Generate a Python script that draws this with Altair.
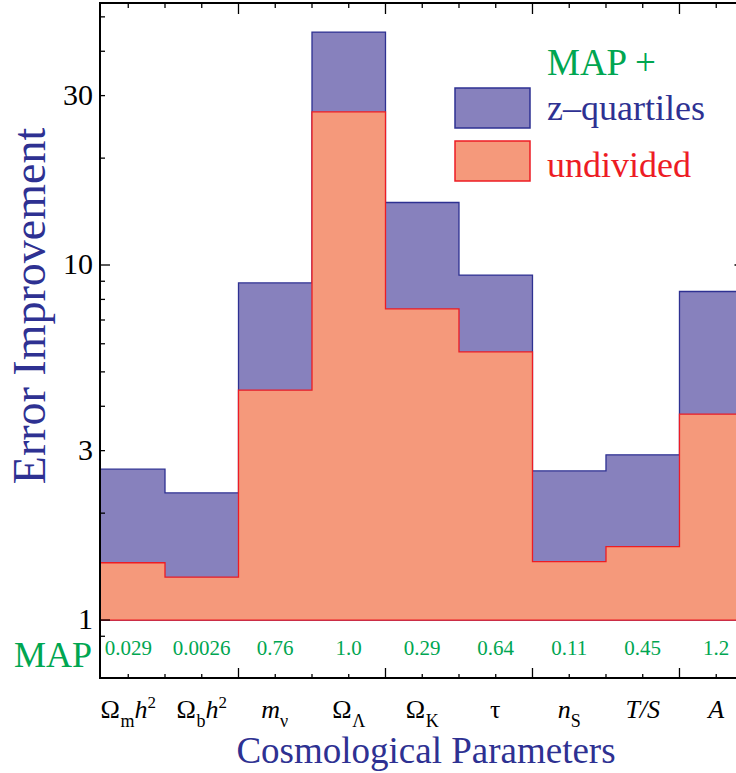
import altair as alt
import pandas as pd

# ---------------- data ----------------
params = ["Ωmh2", "Ωbh2", "mν", "ΩΛ", "ΩK", "τ", "nS", "T/S", "A"]
zquart = [2.66, 2.28, 8.9, 45.3, 15.0, 9.37, 2.63, 2.92, 8.42]      # MAP + z-quartiles
undiv = [1.45, 1.32, 4.44, 27.0, 7.52, 5.69, 1.46, 1.61, 3.80]       # MAP + undivided
map_err = ["0.029", "0.0026", "0.76", "1.0", "0.29", "0.64", "0.11", "0.45", "1.2"]
label_pieces = [
    [("Ω", "n"), ("m", "sub"), ("h", "i"), ("2", "sup")],
    [("Ω", "n"), ("b", "sub"), ("h", "i"), ("2", "sup")],
    [("m", "i"), ("ν", "sub")],
    [("Ω", "n"), ("Λ", "sub")],
    [("Ω", "n"), ("K", "sub")],
    [("τ", "n")],
    [("n", "i"), ("S", "sub")],
    [("T/S", "i")],
    [("A", "i")],
]
y_labels = [1, 3, 10, 30]
y_major_ticks = [1, 10]
y_minor_ticks = [0.9, 2, 3, 4, 5, 6, 7, 8, 9, 20, 30, 40, 50]
x_major_ticks = [2, 4, 6, 8]
x_minor_ticks = [0.5, 1, 1.5, 2.5, 3, 3.5, 4.5, 5, 5.5, 6.5, 7, 7.5, 8.5]

# ---------------- layout / style ----------------
W, H = 636, 675
XMIN, XMAX = 0.1156, 8.769
YMIN, YMAX = 0.6866, 54.7
PXU = W / (XMAX - XMIN)
FONT = "Liberation Serif"
GREEN = "#00A651"
NAVY = "#2E3192"
BLUE_FILL = "#8781BD"
RED_FILL = "#F5997B"
RED = "#ED1C24"

xs = alt.Scale(domain=[XMIN, XMAX], nice=False, zero=False)
ys = alt.Scale(type="log", domain=[YMIN, YMAX], nice=False)

n = len(params)
area_df = pd.DataFrame({
    "x": list(range(n + 1)),
    "zq": zquart + [zquart[-1]],
    "ud": undiv + [undiv[-1]],
    "base": [1] * (n + 1),
})

blue = alt.Chart(area_df).mark_area(
    interpolate="step-after", clip=True, fill=BLUE_FILL, stroke=NAVY,
    strokeWidth=1.3, opacity=1
).encode(
    x=alt.X("x:Q", scale=xs, axis=None),
    y=alt.Y("zq:Q", scale=ys, axis=None),
    y2="base:Q",
)
red = alt.Chart(area_df).mark_area(
    interpolate="step-after", clip=True, fill=RED_FILL, stroke=RED,
    strokeWidth=1.3, opacity=1
).encode(
    x=alt.X("x:Q", scale=xs, axis=None),
    y=alt.Y("ud:Q", scale=ys, axis=None),
    y2="base:Q",
)

one = pd.DataFrame({"a": [0]})
spines = [
    alt.Chart(one).mark_rule(color="black", strokeWidth=2).encode(
        x=alt.value(0), y=alt.value(0), y2=alt.value(H)),
    alt.Chart(one).mark_rule(color="black", strokeWidth=2).encode(
        x=alt.value(-1), x2=alt.value(W), y=alt.value(H)),
    alt.Chart(one).mark_rule(color="black", strokeWidth=2).encode(
        x=alt.value(-1), x2=alt.value(W), y=alt.value(0)),
]

def yticks(vals, length):
    return alt.Chart(pd.DataFrame({"v": vals})).mark_rule(
        color="black", strokeWidth=1.3).encode(
        y=alt.Y("v:Q", scale=ys, axis=None),
        x=alt.value(0), x2=alt.value(length))

def xticks(vals, length):
    d = pd.DataFrame({"v": vals})
    bot = alt.Chart(d).mark_rule(color="black", strokeWidth=1.3).encode(
        x=alt.X("v:Q", scale=xs, axis=None),
        y=alt.value(H), y2=alt.value(H - length))
    top = alt.Chart(d).mark_rule(color="black", strokeWidth=1.3).encode(
        x=alt.X("v:Q", scale=xs, axis=None),
        y=alt.value(0), y2=alt.value(length + 1))
    return [bot, top]

right_tick = alt.Chart(pd.DataFrame({"v": [10]})).mark_rule(
    color="black", strokeWidth=1.3).encode(
    y=alt.Y("v:Q", scale=ys, axis=None),
    x=alt.value(W - 1.5), x2=alt.value(W))

ticks = [yticks(y_minor_ticks, 5), yticks(y_major_ticks, 10), right_tick] \
    + xticks(x_minor_ticks, 4) + xticks(x_major_ticks, 10)

# y tick labels
ylab = alt.Chart(pd.DataFrame({"v": y_labels})).mark_text(
    font=FONT, fontSize=30, color="black", align="right", baseline="middle"
).encode(
    y=alt.Y("v:Q", scale=ys, axis=None), x=alt.value(-7), text=alt.Text("v:Q", format="d"))

# MAP error values row
map_df = pd.DataFrame({"x": [i + 0.5 for i in range(n)], "t": map_err})
map_text = alt.Chart(map_df).mark_text(
    font=FONT, fontSize=21, color=GREEN, baseline="middle", align="center"
).encode(x=alt.X("x:Q", scale=xs, axis=None), y=alt.value(646), text="t:N")

# composed x-axis labels
WID = {("Ω", "n"): 0.768, ("m", "sub"): 0.778, ("b", "sub"): 0.5, ("h", "i"): 0.5,
       ("2", "sup"): 0.5, ("m", "i"): 0.722, ("ν", "sub"): 0.52, ("Λ", "sub"): 0.722,
       ("K", "sub"): 0.722, ("τ", "n"): 0.44, ("n", "i"): 0.5, ("S", "sub"): 0.556,
       ("T/S", "i"): 1.334, ("A", "i"): 0.611}
SIZE = {"n": 26, "i": 26, "sub": 18, "sup": 17}
rows = []
for k, pieces in enumerate(label_pieces):
    widths = [WID[p] * SIZE[p[1]] for p in pieces]
    start = -sum(widths) / 2
    cum = 0
    for (t, kind), w in zip(pieces, widths):
        rows.append({"x": k + 0.5 + (start + cum) / PXU, "t": t, "kind": kind})
        cum += w
lab_df = pd.DataFrame(rows)
BASE = 715
style = {"n": ("normal", 0), "i": ("italic", 0), "sub": ("normal", 9), "sup": ("normal", -10)}
label_layers = []
for kind, (fs, dy) in style.items():
    label_layers.append(
        alt.Chart(lab_df).transform_filter(alt.datum.kind == kind).mark_text(
            font=FONT, fontSize=SIZE[kind], fontStyle=fs, align="left",
            baseline="alphabetic", color="black"
        ).encode(x=alt.X("x:Q", scale=xs, axis=None), y=alt.value(BASE + dy), text="t:N"))

# titles and legend
def txt(s, x, y, size, color, align="left", angle=0, baseline="alphabetic"):
    kw = dict(font=FONT, fontSize=size, color=color, align=align, baseline=baseline)
    if angle:
        kw["angle"] = angle
    return alt.Chart(one).mark_text(**kw).encode(
        x=alt.value(x), y=alt.value(y), text=alt.value(s))

texts = [
    txt("MAP", -8, 664, 36, GREEN, align="right"),
    txt("Cosmological Parameters", 326, 760, 37, NAVY, align="center"),
    txt("Error Improvement", -55, 303, 46, NAVY, align="center", angle=270),
    txt("MAP +", 447, 72, 37, GREEN),
    txt("z–quartiles", 447, 117, 36, NAVY),
    txt("undivided", 447, 174, 36, RED),
]
swatches = [
    alt.Chart(one).mark_rect(fill=BLUE_FILL, stroke=NAVY, strokeWidth=1.5).encode(
        x=alt.value(355), x2=alt.value(430), y=alt.value(85), y2=alt.value(125)),
    alt.Chart(one).mark_rect(fill=RED_FILL, stroke=RED, strokeWidth=1.5).encode(
        x=alt.value(355), x2=alt.value(430), y=alt.value(138), y2=alt.value(178)),
]

chart = alt.layer(
    blue, red, *spines, *ticks, ylab, map_text, *label_layers, *texts, *swatches
).properties(
    width=W, height=H,
    padding={"left": 100, "top": 3, "right": 0, "bottom": 95},
    autosize=alt.AutoSizeParams(type="none"),
    background="white",
).configure_view(stroke=None)

chart.save("out.html", embed_options={"renderer": "svg", "actions": False})
